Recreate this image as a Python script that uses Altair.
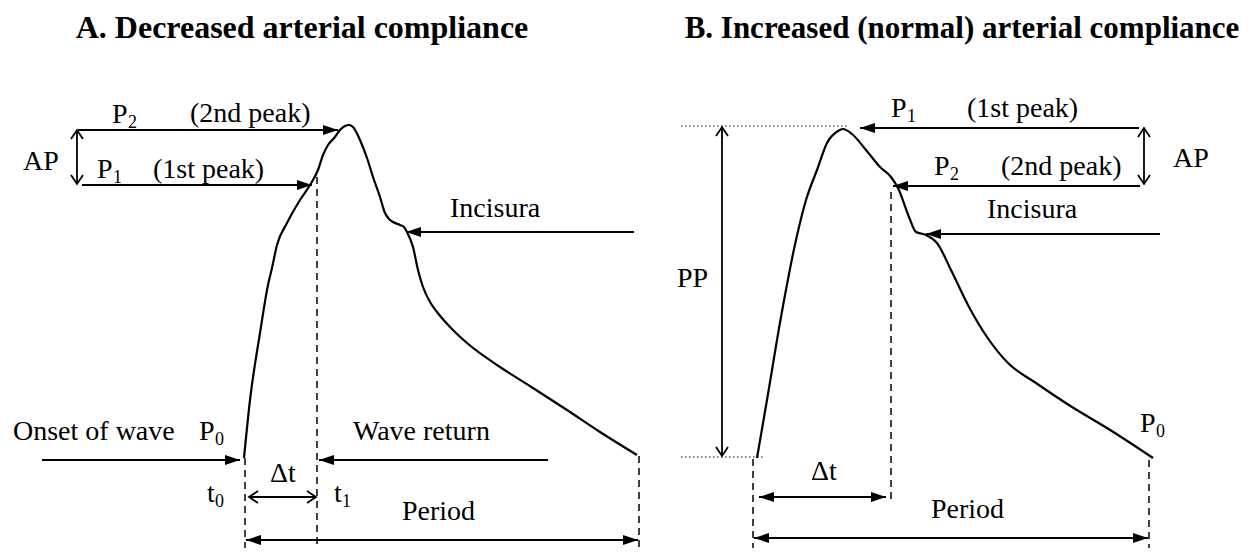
import math
import altair as alt
import pandas as pd

# ---------------- data ----------------
# Panel A waveform (decreased compliance)
wave_a_x = [244, 250, 260, 268, 272, 277, 287, 300, 310, 318, 323, 328, 335, 340, 345, 349, 353,
            360, 367, 373, 380, 385, 389, 393, 400, 404, 407, 413, 418, 423, 430, 437, 450, 467,
            500, 533, 567, 600, 637]
wave_a_y = [458, 400, 333, 285, 268, 245, 223, 200, 185, 170, 155, 145, 137, 130, 126, 125, 127,
            140, 158, 177, 197, 213, 219, 222, 225, 227, 232, 247, 270, 287, 302, 312, 327, 343,
            367, 388, 410, 432, 455]
# Panel B waveform (normal compliance)
wave_b_x = [757, 767, 781, 796, 806, 817, 827, 838, 843, 852, 866, 880, 891, 898, 909, 916, 926,
            937, 951, 969, 987, 1008, 1036, 1072, 1107, 1153]
wave_b_y = [458, 400, 317, 240, 200, 170, 143, 131, 129, 134, 150, 167, 177, 188, 217, 232, 235,
            243, 270, 307, 337, 363, 383, 407, 428, 458]

# arrows: start -> end, head at start / end, head kind
arrow_x1 = [78, 77, 82, 634, 42, 548, 249, 246, 1139, 1144, 1140, 1160, 722, 759, 754]
arrow_y1 = [130, 130, 185, 232, 460, 460, 497, 540, 128, 128, 186, 234, 127, 497, 538]
arrow_x2 = [338, 77, 312, 406, 240, 319, 316, 638, 860, 1144, 893, 926, 722, 886, 1148]
arrow_y2 = [130, 184, 185, 232, 460, 460, 497, 540, 128, 184, 186, 234, 456, 497, 538]
arrow_head_start = [0, 1, 0, 0, 0, 0, 1, 1, 0, 1, 0, 0, 1, 1, 1]
arrow_head_end = [1, 1, 1, 1, 1, 1, 1, 1, 1, 1, 1, 1, 1, 1, 1]
arrow_kind = ["fill", "open", "fill", "fill", "fill", "fill", "open", "fill",
              "fill", "open", "fill", "fill", "open", "fill", "fill"]

# dashed vertical markers
dash_x = [245, 317, 639, 753, 891, 1149]
dash_y1 = [458, 177, 456, 459, 192, 460]
dash_y2 = [548, 548, 548, 548, 502, 548]

# dotted horizontal reference lines (panel B)
dot_x1 = [681, 681]
dot_x2 = [849, 764]
dot_y = [126, 457]

# titles
title_text = ["A. Decreased arterial compliance", "B. Increased (normal) arterial compliance"]
title_x = [302, 962]
title_y = [38, 38]
title_size = [32, 31]

# labels
label_text = ["AP", "P", "(2nd peak)", "P", "(1st peak)", "Incisura", "Onset of wave", "P",
              "Wave return", "Δt", "t", "t", "Period",
              "P", "(1st peak)", "P", "(2nd peak)", "AP", "Incisura", "PP", "P", "Δt", "Period"]
label_x = [23, 112, 190, 97, 153, 450, 13, 199, 353, 270, 207, 334, 402,
           891, 967, 934, 1001, 1173, 987, 677, 1140, 811, 931]
label_y = [170, 123, 122, 178, 178, 217, 440, 440, 440, 482, 502, 502, 520,
           117, 117, 175, 175, 167, 218, 287, 432, 480, 518]

# subscripts
sub_text = ["2", "1", "0", "0", "1", "1", "2", "0"]
sub_x = [128, 113, 215, 215, 342, 907, 950, 1156]
sub_y = [128, 183, 445, 507, 507, 122, 180, 437]

# ---------------- build ----------------
W, H = 1236, 540
X0, Y0 = 8, 8
xs = alt.Scale(domain=[X0, X0 + W], nice=False, zero=False)
ys = alt.Scale(domain=[Y0 + H, Y0], nice=False, zero=False)
FONT = "Liberation Serif"

def X(f="x"):
    return alt.X(f"{f}:Q", scale=xs, axis=None)

def Y(f="y"):
    return alt.Y(f"{f}:Q", scale=ys, axis=None)

wave = pd.DataFrame({
    "x": wave_a_x + wave_b_x,
    "y": wave_a_y + wave_b_y,
    "panel": ["A"] * len(wave_a_x) + ["B"] * len(wave_b_x),
    "order": list(range(len(wave_a_x))) + list(range(len(wave_b_x))),
})

arrows = pd.DataFrame({"x": arrow_x1, "y": arrow_y1, "x2": arrow_x2, "y2": arrow_y2})

heads = []
for i in range(len(arrow_x1)):
    dx = arrow_x2[i] - arrow_x1[i]
    dy = arrow_y2[i] - arrow_y1[i]
    ang = math.degrees(math.atan2(dy, dx)) % 360
    if arrow_head_end[i]:
        heads.append({"x": arrow_x2[i], "y": arrow_y2[i], "angle": ang, "kind": arrow_kind[i]})
    if arrow_head_start[i]:
        heads.append({"x": arrow_x1[i], "y": arrow_y1[i], "angle": (ang + 180) % 360,
                      "kind": arrow_kind[i]})
heads = pd.DataFrame(heads)

dashes = pd.DataFrame({"x": dash_x, "y": dash_y1, "y2": dash_y2})
dots = pd.DataFrame({"x": dot_x1, "x2": dot_x2, "y": dot_y})
titles = pd.DataFrame({"t": title_text, "x": title_x, "y": title_y, "s": title_size})
labels = pd.DataFrame({"t": label_text, "x": label_x, "y": label_y})
subs = pd.DataFrame({"t": sub_text, "x": sub_x, "y": sub_y})

TRI = "M0,0L-15,-5L-15,5Z"
CHEV = "M-9,-6L0,0L-9,6"

wave_layer = alt.Chart(wave).mark_line(
    color="black", strokeWidth=2.2, interpolate="monotone"
).encode(x=X(), y=Y(), detail="panel:N", order="order:Q")

arrow_layer = alt.Chart(arrows).mark_rule(color="black", strokeWidth=1.8).encode(
    x=X(), y=Y(), x2="x2:Q", y2="y2:Q")

head_fill = alt.Chart(heads).transform_filter("datum.kind == 'fill'").mark_point(
    shape=TRI, filled=True, size=4, color="black", opacity=1
).encode(x=X(), y=Y(), angle=alt.Angle("angle:Q", scale=None))

head_open = alt.Chart(heads).transform_filter("datum.kind == 'open'").mark_point(
    shape=CHEV, filled=False, size=4, color="black", opacity=1, strokeWidth=1.8
).encode(x=X(), y=Y(), angle=alt.Angle("angle:Q", scale=None))

dash_layer = alt.Chart(dashes).mark_rule(color="black", strokeWidth=1.5, strokeDash=[7, 5]).encode(
    x=X(), y=Y(), y2="y2:Q")

dot_layer = alt.Chart(dots).mark_rule(color="black", strokeWidth=1.2, strokeDash=[1.5, 2.5]).encode(
    x=X(), x2="x2:Q", y=Y())

title_layer = alt.Chart(titles).mark_text(
    font=FONT, fontWeight="bold", align="center", baseline="alphabetic", color="black"
).encode(x=X(), y=Y(), text="t:N", size=alt.Size("s:Q", scale=None))

label_layer = alt.Chart(labels).mark_text(
    font=FONT, fontSize=28, align="left", baseline="alphabetic", color="black"
).encode(x=X(), y=Y(), text="t:N")

sub_layer = alt.Chart(subs).mark_text(
    font=FONT, fontSize=18, align="left", baseline="alphabetic", color="black"
).encode(x=X(), y=Y(), text="t:N")

chart = alt.layer(
    dot_layer, dash_layer, arrow_layer, head_fill, head_open, wave_layer,
    title_layer, label_layer, sub_layer
).properties(
    width=W, height=H, padding=0, autosize=alt.AutoSizeParams(type="none")
).configure_view(stroke=None)

chart.save("out.html", embed_options={"renderer": "svg", "actions": False})
